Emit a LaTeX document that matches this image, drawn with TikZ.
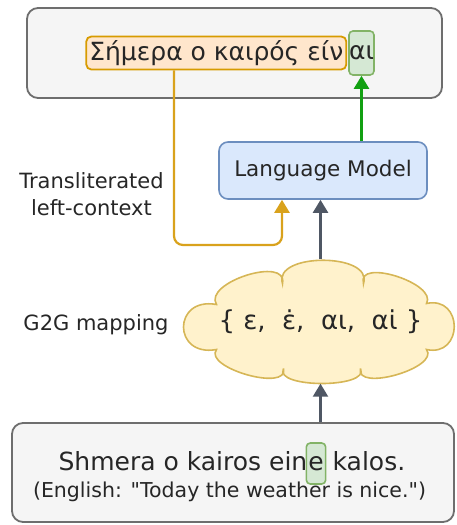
\documentclass[tikz,border=0pt]{standalone}
\usepackage{fontspec}
\setmainfont{DejaVu Sans}
\usepackage{tikz}
\usetikzlibrary{positioning,arrows.meta}

\definecolor{panelfill}{HTML}{F5F5F5}
\definecolor{panelline}{HTML}{6E6E6E}
\definecolor{ctxfill}{HTML}{FFE6CC}
\definecolor{ctxline}{HTML}{D79B00}
\definecolor{genfill}{HTML}{D5E8D4}
\definecolor{genline}{HTML}{82B366}
\definecolor{lmfill}{HTML}{DAE8FC}
\definecolor{lmline}{HTML}{6C8EBF}
\definecolor{mapfill}{HTML}{FFF2CC}
\definecolor{mapline}{HTML}{D6B656}
\definecolor{genarrow}{HTML}{12A012}
\definecolor{ctxarrow}{HTML}{D9A21C}
\definecolor{maparrow}{HTML}{4F5764}

\begin{document}
\begin{tikzpicture}[x=1pt,y=-1pt,
  panel/.style={draw=panelline,fill=panelfill,line width=1.8pt,rounded corners=11pt},
  ctxbox/.style={draw=ctxline,fill=ctxfill,line width=1.8pt,rounded corners=5pt,
    minimum height=33pt,inner xsep=3pt,inner ysep=0pt},
  genbox/.style={draw=genline,fill=genfill,line width=1.6pt,rounded corners=4pt,
    minimum height=44pt,minimum width=25pt,inner xsep=0pt,inner ysep=0pt},
  lmbox/.style={draw=lmline,fill=lmfill,line width=1.6pt,rounded corners=9pt,
    minimum width=208pt,minimum height=57pt},
  mapcloud/.style={draw=mapline,fill=mapfill,line width=1.6pt},
  label/.style={align=center,font=\fontsize{21}{27}\selectfont},
  tip/.style={-{Triangle[width=15pt,length=13pt]}},
  every node/.style={text=black!85}]

\useasboundingbox (0,0) rectangle (456,525);

% output side
\node[panel,minimum width=415pt,minimum height=90pt] (outbox) at (234.5,53) {};
\node[genbox,font=\fontsize{25}{30}\selectfont] (gen) at (361.5,53) {αι};
\node[ctxbox,font=\fontsize{25}{30}\selectfont,left=1pt of gen] (ctx) {Σήμερα ο καιρός είν};

\node[lmbox,font=\fontsize{21.5}{26}\selectfont] (lm) at (323,170.5) {Language Model};
\node[label] (ctxlabel) at (91.5,194) {Transliterated\\left-context};

% cloud
\begin{scope}[shift={(320.5,321.5)}]
\draw[mapcloud] (-104,-17) .. controls (-117.6,-39) and (-32.4,-66) .. (-38,-38)
  .. controls (-48,-69) and (53,-69) .. (43,-38)
  .. controls (35.5,-64) and (117.5,-38) .. (106,-18)
  .. controls (143,-26) and (143,36) .. (106,28)
  .. controls (119.6,46.2) and (34.4,70.8) .. (40,47)
  .. controls (50,67) and (-47,67) .. (-37,47)
  .. controls (-31.4,70.7) and (-117.6,46.3) .. (-104,28)
  .. controls (-148,36) and (-148,-25) .. (-104,-17) -- cycle;
\end{scope}
\node[minimum width=271pt,minimum height=124pt,font=\fontsize{26}{30}\selectfont] (g2g) at (320.5,321.5)
  {\{ ε,\ \ ε̇,\ \ αι,\ \ αι̇ \}};
\node[label] (g2glabel) at (96,325) {G2G mapping};

% input side
\node[panel,minimum width=442pt,minimum height=99pt] (sent) at (233,472.5) {};
\node[genbox,font=\fontsize{25}{30}\selectfont,minimum width=0pt,inner xsep=2pt,
  text height=27pt,text depth=14pt,minimum height=0pt,anchor=base] (e) at (316,470) {e};
\node[anchor=base east,inner sep=0pt,font=\fontsize{25}{30}\selectfont] (pre) at ([xshift=2pt]e.base west) {Shmera o kairos ein};
\node[anchor=base west,inner sep=0pt,font=\fontsize{25}{30}\selectfont] (post) at ([xshift=-2pt]e.base east) {\ kalos.};
\node[anchor=base,inner sep=0pt,font=\fontsize{20.5}{25}\selectfont] (english) at (229.5,497)
  {(English: \textquotedbl Today the weather is nice.\textquotedbl)};

\coordinate (ctxturn) at (174,245);
\coordinate (lmin) at (282,245);

\draw[tip,genarrow,line width=2.2pt] (lm.north -| gen.south) -- (gen.south);
\draw[tip,ctxarrow,line width=2.2pt,rounded corners=9pt]
  (ctx.south -| ctxturn) -- (ctxturn) -- (lmin) -- (lm.south -| lmin);
\draw[tip,maparrow,line width=2.2pt] (g2g.north) -- (lm.south -| g2g.north);
\draw[tip,maparrow,line width=2.2pt] (sent.north -| g2g.south) -- (g2g.south);
\end{tikzpicture}
\end{document}
